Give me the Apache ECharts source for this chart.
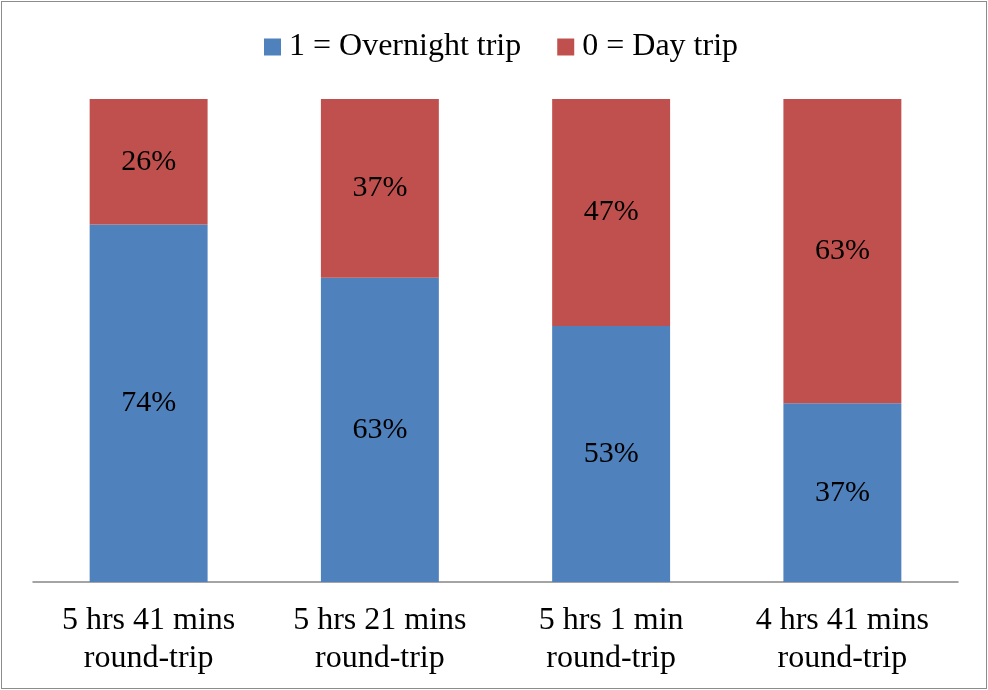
<!DOCTYPE html>
<html>
<head>
<meta charset="utf-8">
<script src="https://cdn.jsdelivr.net/npm/echarts@6/dist/echarts.min.js"></script>
<style>
  html, body { margin: 0; padding: 0; background: #fff; }
  #frame { position: absolute; left: 1px; top: 1px; width: 984px; height: 686px; border: 1px solid #8c8c8c; }
  #chart { position: absolute; left: 0; top: 0; width: 988px; height: 690px; }
</style>
</head>
<body>
<div id="frame"></div>
<div id="chart"></div>
<script>
// Share of trips by round-trip travel time
const categories = ['5 hrs 41 mins\nround-trip', '5 hrs 21 mins\nround-trip', '5 hrs 1 min\nround-trip', '4 hrs 41 mins\nround-trip'];
const overnight = [74, 63, 53, 37];
const dayTrip = [26, 37, 47, 63];
const seriesNames = ['1 = Overnight trip', '0 = Day trip'];

const font = 'Liberation Serif, Times New Roman, serif';
const chart = echarts.init(document.getElementById('chart'));

const labelStyle = {
  show: true,
  position: 'inside',
  formatter: p => p.value + '%',
  fontFamily: font,
  fontSize: 30,
  color: '#000'
};

chart.setOption({
  animation: false,
  textStyle: { fontFamily: font },
  legend: {
    top: 26,
    left: 259,
    itemWidth: 17,
    itemHeight: 17,
    itemGap: 36,
    icon: 'rect',
    textStyle: { fontFamily: font, fontSize: 32, color: '#000', padding: [0, 0, 0, 3] },
    data: seriesNames
  },
  grid: { left: 33, right: 30, top: 99, bottom: 108 },
  xAxis: {
    type: 'category',
    data: categories,
    axisLine: { lineStyle: { color: '#868686', width: 1.5 } },
    axisTick: { show: false },
    axisLabel: { fontFamily: font, fontSize: 32, color: '#000', lineHeight: 38, margin: 20 }
  },
  yAxis: {
    type: 'value',
    min: 0,
    max: 100,
    show: false,
    splitLine: { show: false }
  },
  series: [
    {
      name: seriesNames[0],
      type: 'bar',
      stack: 'total',
      barWidth: '51%',
      data: overnight,
      itemStyle: { color: '#4F81BD' },
      label: labelStyle
    },
    {
      name: seriesNames[1],
      type: 'bar',
      stack: 'total',
      barWidth: '51%',
      data: dayTrip,
      itemStyle: { color: '#C0504D' },
      label: labelStyle
    }
  ]
});
</script>
</body>
</html>
